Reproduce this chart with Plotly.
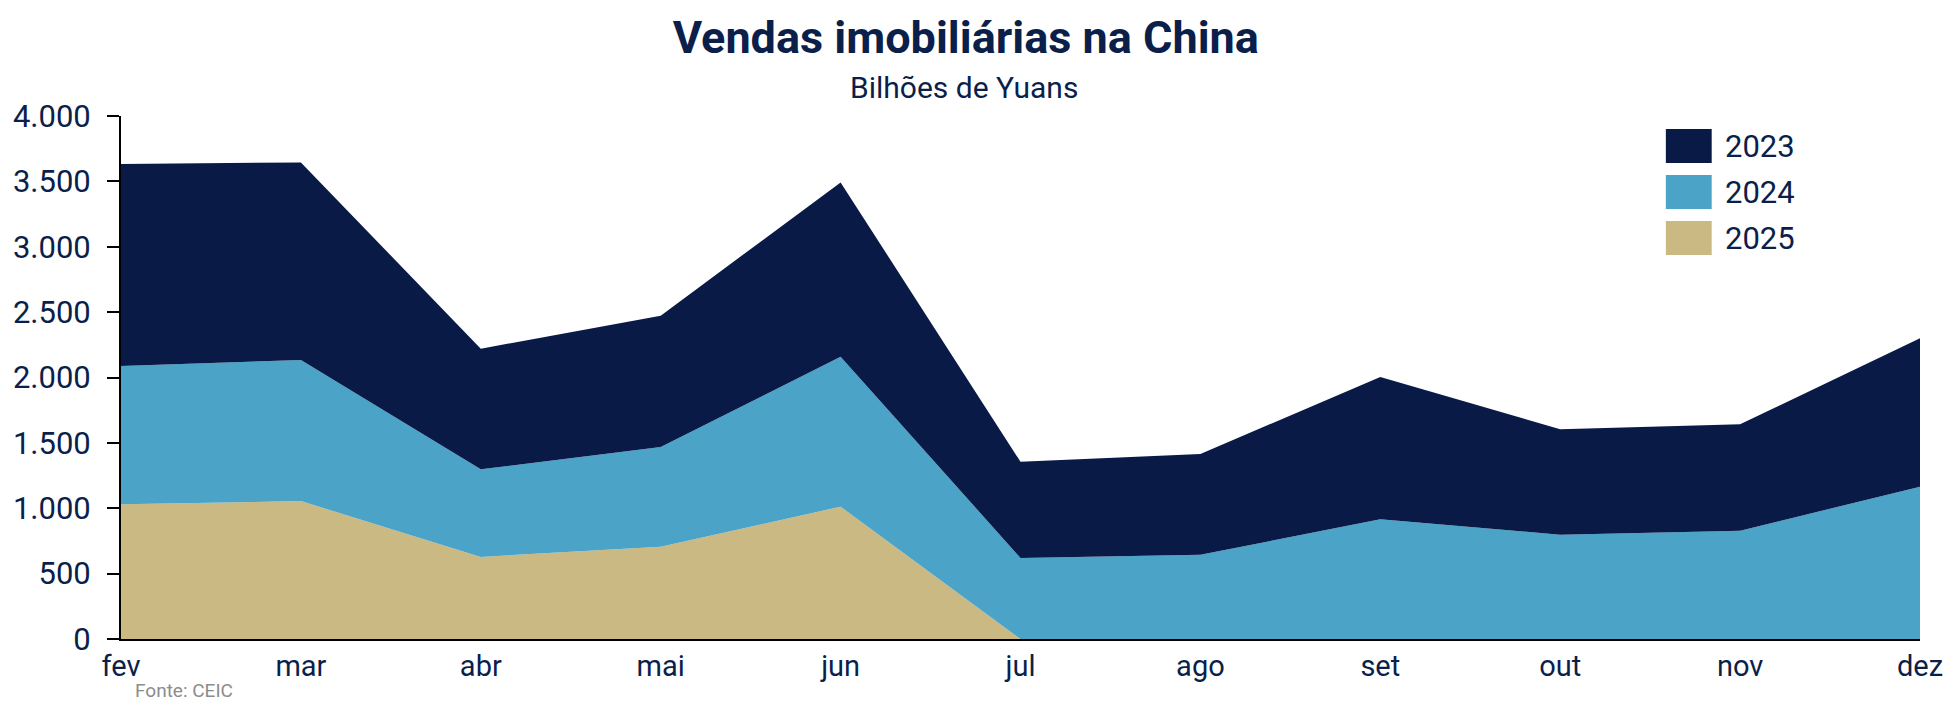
import plotly.graph_objects as go

months = ["fev", "mar", "abr", "mai", "jun", "jul", "ago", "set", "out", "nov", "dez"]
v2025 = [1030, 1055, 628, 706, 1012, 0]
v2024 = [1057, 1079, 670, 762, 1147, 620, 644, 915, 798, 828, 1165]
v2023 = [1545, 1511, 922, 1005, 1333, 735, 771, 1089, 807, 814, 1136]
yticks = [0, 500, 1000, 1500, 2000, 2500, 3000, 3500, 4000]
ytick_text = ["0", "500", "1.000", "1.500", "2.000", "2.500", "3.000", "3.500", "4.000"]

C23 = "#081A45"
C24 = "#4BA3C7"
C25 = "#CBB983"
TXT = "#0B1F4B"
FONT = "Roboto"

fig = go.Figure()
fig.add_trace(go.Scatter(x=months[:len(v2025)], y=v2025, name="2025", stackgroup="s",
                         mode="none", fillcolor=C25, line=dict(width=0)))
fig.add_trace(go.Scatter(x=months, y=v2024, name="2024", stackgroup="s",
                         mode="none", fillcolor=C24, line=dict(width=0)))
fig.add_trace(go.Scatter(x=months, y=v2023, name="2023", stackgroup="s",
                         mode="none", fillcolor=C23, line=dict(width=0)))

fig.update_layout(
    width=1955, height=705,
    margin=dict(l=121, r=29, t=116, b=66),
    paper_bgcolor="white", plot_bgcolor="white",
    showlegend=False,
    font=dict(family=FONT, color=TXT, size=28),
    title=dict(text="<b>Vendas imobiliárias na China</b>", x=0.494, xref="container",
               xanchor="center", y=1 - 37 / 705, yref="container", yanchor="middle",
               font=dict(family=FONT, size=45, color=TXT)),
)
fig.update_xaxes(type="category", categoryorder="array", categoryarray=months,
                 range=[0, len(months) - 1], showline=True, linecolor="black", linewidth=2,
                 ticks="", showgrid=False, zeroline=False,
                 tickfont=dict(family=FONT, size=29, color=TXT))
fig.update_yaxes(range=[0, 4000], tickvals=yticks, ticktext=ytick_text,
                 showline=True, linecolor="black", linewidth=2,
                 ticks="outside", ticklen=12, tickwidth=2, tickcolor="black",
                 ticklabelstandoff=10,
                 showgrid=False, zeroline=False,
                 tickfont=dict(family=FONT, size=31, color=TXT))

# subtitle
fig.add_annotation(text="Bilhões de Yuans", xref="paper", yref="paper",
                   x=(967 - 121) / 1805, y=(639 - 87) / 523, xanchor="center", yanchor="middle",
                   showarrow=False, font=dict(family=FONT, size=30, color=TXT))
# source
fig.add_annotation(text="Fonte: CEIC", xref="paper", yref="paper",
                   x=(133 - 121) / 1805, y=(639 - 690) / 523, xanchor="left", yanchor="middle",
                   showarrow=False, font=dict(family=FONT, size=19, color="#8C8C8C"))

# custom legend
legend_items = [("2023", C23, 146), ("2024", C24, 192), ("2025", C25, 238)]
for label, col, yc in legend_items:
    fig.add_shape(type="rect", xref="paper", yref="paper",
                  x0=(1671 - 121) / 1805, x1=(1717 - 121) / 1805,
                  y0=(639 - yc - 17) / 523, y1=(639 - yc + 17) / 523,
                  fillcolor=col, line=dict(width=0))
    fig.add_annotation(text=label, xref="paper", yref="paper",
                       x=(1728 - 121) / 1805, y=(639 - yc) / 523, xanchor="left", yanchor="middle",
                       showarrow=False, font=dict(family=FONT, size=31, color=TXT))

fig.write_html("out.html")
